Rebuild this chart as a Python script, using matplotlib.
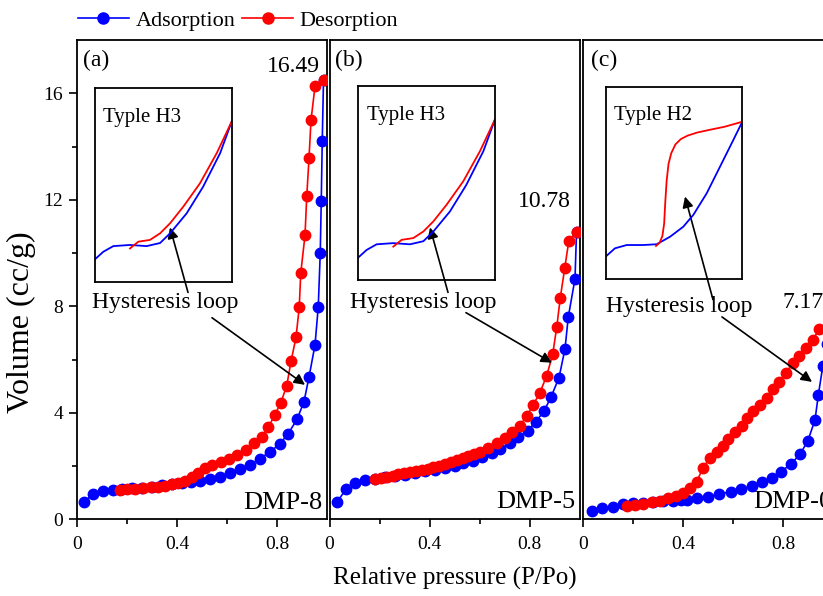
import matplotlib
matplotlib.use('Agg')
import matplotlib.pyplot as plt
from matplotlib.lines import Line2D

plt.rcParams['font.family'] = ['Liberation Serif', 'DejaVu Serif']

# ---- data ----
# DMP-8
ads_a_p = [0.028, 0.065, 0.105, 0.145, 0.18, 0.22, 0.26, 0.30, 0.34, 0.38, 0.42, 0.455, 0.49, 0.53,
           0.57, 0.61, 0.65, 0.69, 0.73, 0.77, 0.81, 0.845, 0.88, 0.908, 0.928, 0.952, 0.965, 0.973,
           0.977, 0.981, 0.986]
ads_a_v = [0.66, 0.94, 1.06, 1.1, 1.13, 1.16, 1.19, 1.22, 1.27, 1.31, 1.36, 1.4, 1.44, 1.52,
           1.6, 1.73, 1.88, 2.04, 2.27, 2.52, 2.82, 3.22, 3.75, 4.42, 5.34, 6.55, 7.97, 10.0,
           11.94, 14.2, 16.49]
des_a_p = [0.986, 0.952, 0.936, 0.928, 0.919, 0.912, 0.895, 0.889, 0.876, 0.856, 0.839, 0.815,
           0.79, 0.765, 0.739, 0.706, 0.674, 0.641, 0.608, 0.574, 0.541, 0.512, 0.485, 0.459,
           0.432, 0.405, 0.379, 0.352, 0.325, 0.294, 0.265, 0.232, 0.2, 0.17]
des_a_v = [16.49, 16.26, 14.99, 13.55, 12.13, 10.66, 9.25, 7.97, 6.83, 5.93, 5.02, 4.37,
           3.9, 3.45, 3.1, 2.85, 2.62, 2.43, 2.27, 2.16, 2.04, 1.92, 1.75, 1.58,
           1.44, 1.38, 1.32, 1.26, 1.23, 1.2, 1.17, 1.14, 1.13, 1.1]

# DMP-5
ads_b_p = [0.031, 0.066, 0.102, 0.142, 0.18, 0.22, 0.26, 0.30, 0.34, 0.38, 0.42, 0.46, 0.50,
           0.535, 0.575, 0.609, 0.649, 0.682, 0.722, 0.755, 0.793, 0.826, 0.859, 0.886, 0.918,
           0.942, 0.955, 0.982, 0.988]
ads_b_v = [0.66, 1.13, 1.35, 1.48, 1.53, 1.58, 1.63, 1.68, 1.74, 1.8, 1.87, 1.94, 2.02,
           2.1, 2.2, 2.33, 2.48, 2.63, 2.86, 3.08, 3.33, 3.67, 4.08, 4.59, 5.32,
           6.4, 7.59, 9.03, 10.78]
des_b_p = [0.988, 0.957, 0.941, 0.923, 0.909, 0.893, 0.869, 0.842, 0.815, 0.789, 0.76, 0.731,
           0.702, 0.669, 0.635, 0.602, 0.578, 0.555, 0.532, 0.509, 0.485, 0.462, 0.438, 0.415,
           0.392, 0.369, 0.345, 0.322, 0.298, 0.275, 0.252, 0.229, 0.205, 0.182]
des_b_v = [10.78, 10.44, 9.44, 8.31, 7.22, 6.21, 5.4, 4.76, 4.3, 3.88, 3.5, 3.29,
           3.04, 2.86, 2.67, 2.54, 2.46, 2.38, 2.3, 2.23, 2.15, 2.08, 2.01, 1.95,
           1.9, 1.85, 1.81, 1.77, 1.73, 1.69, 1.64, 1.6, 1.56, 1.52]

# DMP-0
ads_c_p = [0.035, 0.077, 0.119, 0.159, 0.2, 0.24, 0.28, 0.32, 0.36, 0.39, 0.415, 0.455, 0.501,
           0.545, 0.591, 0.631, 0.675, 0.715, 0.755, 0.792, 0.831, 0.868, 0.899, 0.928, 0.941,
           0.959, 0.975, 0.99]
ads_c_v = [0.32, 0.41, 0.47, 0.56, 0.6, 0.63, 0.66, 0.68, 0.7, 0.71, 0.73, 0.79, 0.85,
           0.94, 1.04, 1.13, 1.25, 1.4, 1.56, 1.79, 2.07, 2.44, 2.94, 3.73, 4.65,
           5.74, 6.6, 7.17]
des_c_p = [0.99, 0.97, 0.945, 0.919, 0.892, 0.865, 0.839, 0.812, 0.785, 0.761, 0.735, 0.708,
           0.681, 0.657, 0.635, 0.608, 0.581, 0.559, 0.535, 0.508, 0.479, 0.455, 0.428, 0.401,
           0.372, 0.341, 0.308, 0.275, 0.241, 0.208, 0.177]
des_c_v = [7.17, 7.16, 7.14, 6.74, 6.43, 6.14, 5.86, 5.51, 5.17, 4.89, 4.57, 4.3,
           4.05, 3.8, 3.52, 3.27, 3.01, 2.77, 2.54, 2.32, 1.92, 1.41, 1.17, 1.0,
           0.88, 0.79, 0.7, 0.64, 0.58, 0.54, 0.51]

samples = ['DMP-8', 'DMP-5', 'DMP-0']
panel_tags = ['(a)', '(b)', '(c)']
max_labels = ['16.49', '10.78', '7.17']
loop_types = ['Typle H3', 'Typle H3', 'Typle H2']

# sketch curves in the insets (0..1 box units)
h3_ads_x = [0.0, 0.061, 0.134, 0.256, 0.378, 0.476, 0.549, 0.67, 0.79, 0.915, 1.0]
h3_ads_y = [0.116, 0.155, 0.184, 0.19, 0.184, 0.2, 0.25, 0.353, 0.49, 0.664, 0.828]
h3_des_x = [0.256, 0.317, 0.402, 0.476, 0.549, 0.646, 0.768, 0.89, 1.0]
h3_des_y = [0.172, 0.207, 0.216, 0.25, 0.302, 0.388, 0.509, 0.664, 0.828]
h2_ads_x = [0.0, 0.068, 0.154, 0.276, 0.373, 0.471, 0.568, 0.641, 0.739, 0.837, 0.934, 1.0]
h2_ads_y = [0.118, 0.161, 0.178, 0.178, 0.182, 0.221, 0.273, 0.334, 0.446, 0.585, 0.723, 0.818]
h2_des_x = [0.368, 0.395, 0.415, 0.428, 0.436, 0.446, 0.46, 0.48, 0.51, 0.55, 0.6, 0.67, 0.76, 0.87, 1.0]
h2_des_y = [0.173, 0.19, 0.225, 0.29, 0.4, 0.51, 0.6, 0.655, 0.7, 0.728, 0.746, 0.762, 0.776, 0.792, 0.818]

W, H = 823, 596
fig = plt.figure(figsize=(W / 100, H / 100), dpi=100)

lefts = [77, 329.5, 583]
inset_boxes = [(95, 88.3, 231.7, 281.7), (358.3, 86, 495, 280), (605.7, 86.7, 742.3, 279.3)]
ads_p = [ads_a_p, ads_b_p, ads_c_p]
ads_v = [ads_a_v, ads_b_v, ads_c_v]
des_p = [des_a_p, des_b_p, des_c_p]
des_v = [des_a_v, des_b_v, des_c_v]
# label / arrow positions (data units of each panel)
max_pos = [(0.972, 16.99, 'right'), (0.754, 11.94, 'left'), (0.80, 8.13, 'left')]
dmp_pos = [(0.98, 0.62, 'right'), (0.982, 0.65, 'right'), (0.68, 0.65, 'left')]
loop_pos = [(0.06, 8.14), (0.082, 8.14), (0.092, 8.0)]
up_arrow = [((0.444, 8.52), (0.372, 10.96)), ((0.474, 8.52), (0.402, 10.96)), ((0.52, 8.25), (0.408, 12.12))]
long_arrow = [((0.54, 7.57), (0.912, 5.05)), ((0.546, 7.76), (0.89, 5.88)), ((0.556, 7.6), (0.916, 5.16))]

bottom = 519.3
top = 40
for i in range(3):
    ax = fig.add_axes([lefts[i] / W, (H - bottom) / H, 250 / W, (bottom - top) / H])
    ax.plot(ads_p[i], ads_v[i], '-o', color='#0000ff', lw=1.2, ms=7.5, zorder=3)
    ax.plot(des_p[i], des_v[i], '-o', color='#ff0000', lw=1.2, ms=7.5, zorder=4)
    ax.set_xlim(0, 1)
    ax.set_ylim(0, 18)
    ax.set_xticks([0, 0.4, 0.8])
    ax.set_xticklabels(['0', '0.4', '0.8'])
    ax.set_xticks([0.2, 0.6], minor=True)
    ax.tick_params(axis='x', which='major', direction='out', length=6, width=1.2, labelsize=14, pad=6)
    ax.tick_params(axis='x', which='minor', direction='out', length=3.5, width=1.2)
    if i == 0:
        ax.set_yticks([0, 4, 8, 12, 16])
        ax.set_yticks([2, 6, 10, 14], minor=True)
        ax.tick_params(axis='y', which='major', direction='out', length=6, width=1.2, labelsize=14, pad=4)
        ax.tick_params(axis='y', which='minor', direction='out', length=3.5, width=1.2)
    else:
        ax.set_yticks([])
    for s in ax.spines.values():
        s.set_linewidth(1.3)

    ax.text(0.024 + 0.008 * (i == 2), 17.25, panel_tags[i], fontsize=17, ha='left', va='center')
    ax.text(max_pos[i][0], max_pos[i][1], max_labels[i], fontsize=17, ha=max_pos[i][2], va='center')
    ax.text(dmp_pos[i][0], dmp_pos[i][1], samples[i], fontsize=19, ha=dmp_pos[i][2], va='center')
    ax.text(loop_pos[i][0], loop_pos[i][1], 'Hysteresis loop', fontsize=17, ha='left', va='center', zorder=6)
    arw = dict(arrowstyle='-|>', color='black', lw=1.2, mutation_scale=16, shrinkA=0, shrinkB=0)
    ax.annotate('', xy=up_arrow[i][1], xytext=up_arrow[i][0], arrowprops=arw, zorder=7,
                annotation_clip=False)
    ax.annotate('', xy=long_arrow[i][1], xytext=long_arrow[i][0], arrowprops=arw, zorder=7,
                annotation_clip=False)

    # inset sketch
    x0, y0, x1, y1 = inset_boxes[i]
    ins = fig.add_axes([x0 / W, (H - y1) / H, (x1 - x0) / W, (y1 - y0) / H])
    ins.patch.set_alpha(0)
    if i < 2:
        ins.plot(h3_ads_x, h3_ads_y, color='#0000ff', lw=1.3)
        ins.plot(h3_des_x, h3_des_y, color='#ff0000', lw=1.3)
    else:
        ins.plot(h2_ads_x, h2_ads_y, color='#0000ff', lw=1.3)
        ins.plot(h2_des_x, h2_des_y, color='#ff0000', lw=1.3)
    ins.set_xlim(0, 1)
    ins.set_ylim(0, 1)
    ins.set_xticks([])
    ins.set_yticks([])
    for s in ins.spines.values():
        s.set_linewidth(1.3)
    ins.text(0.06, 0.85, loop_types[i], fontsize=15, ha='left', va='center', transform=ins.transAxes)

fig.text(0.553, 0.03, 'Relative pressure (P/Po)', fontsize=18, ha='center', va='center')
fig.text(0.026, 0.46, 'Volume (cc/g)', fontsize=23, ha='center', va='center', rotation=90)

handles = [Line2D([], [], color='#0000ff', marker='o', ms=8, lw=1.2),
           Line2D([], [], color='#ff0000', marker='o', ms=8, lw=1.2)]
fig.legend(handles, ['Adsorption', 'Desorption'], loc='upper left', bbox_to_anchor=(0.089, 0.99),
           ncol=2, frameon=False, fontsize=16, handlelength=2.3, handletextpad=0.3,
           columnspacing=0.3, borderpad=0.2, borderaxespad=0)

plt.savefig('out.png', dpi=100)
